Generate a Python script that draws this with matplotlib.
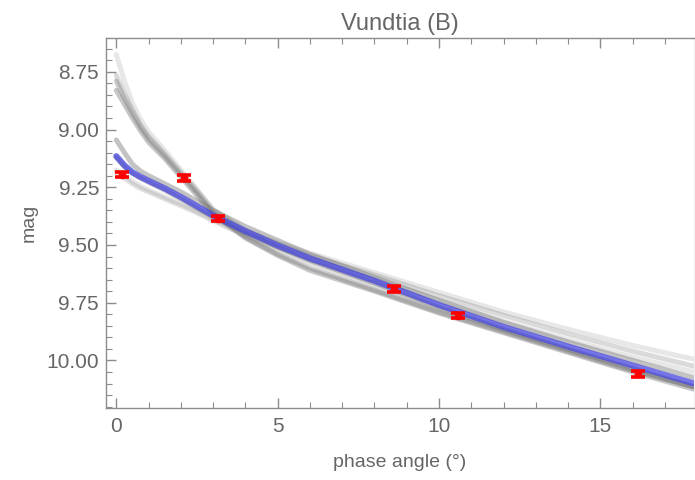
import matplotlib
matplotlib.use("Agg")
import matplotlib.pyplot as plt
from matplotlib.ticker import MultipleLocator, FormatStrFormatter

plt.rcParams['font.family'] = ['Liberation Sans', 'DejaVu Sans']

# Observations
obs_phase = [0.18, 2.09, 3.14, 8.59, 10.60, 16.17]
obs_mag = [9.195, 9.210, 9.386, 9.691, 9.806, 10.058]
obs_err = [0.012, 0.012, 0.012, 0.012, 0.012, 0.012]

# Phase grid on which the model curves are tabulated
phase_grid = [0, 0.25, 0.5, 0.75, 1, 1.5, 2, 2.5, 3, 4, 5, 6, 8, 10, 12, 14, 16, 17.9]

# Best-fit phase curve
fit_mag = [9.115, 9.155, 9.185, 9.205, 9.222, 9.255, 9.292, 9.332, 9.372, 9.44,
           9.502, 9.558, 9.655, 9.76, 9.855, 9.94, 10.022, 10.10]

# Sampled model curves
sample_1 = [8.675, 8.79, 8.885, 8.955, 9.01, 9.09, 9.175, 9.26, 9.345, 9.435,
            9.49, 9.535, 9.62, 9.705, 9.79, 9.865, 9.935, 9.995]
sample_2 = [8.765, 8.845, 8.915, 8.98, 9.03, 9.105, 9.185, 9.265, 9.35, 9.44,
            9.495, 9.545, 9.63, 9.72, 9.805, 9.885, 9.96, 10.025]
sample_3 = [8.79, 8.865, 8.93, 8.99, 9.04, 9.115, 9.195, 9.275, 9.36, 9.465,
            9.54, 9.60, 9.695, 9.79, 9.875, 9.96, 10.045, 10.115]
sample_4 = [8.83, 8.89, 8.95, 9.005, 9.055, 9.125, 9.205, 9.285, 9.365, 9.47,
            9.545, 9.61, 9.70, 9.795, 9.88, 9.965, 10.05, 10.125]
sample_5 = [9.045, 9.10, 9.15, 9.18, 9.20, 9.235, 9.27, 9.31, 9.35, 9.42,
            9.48, 9.54, 9.64, 9.74, 9.835, 9.92, 10.0, 10.075]
sample_6 = [9.185, 9.21, 9.235, 9.255, 9.27, 9.30, 9.33, 9.36, 9.395, 9.46,
            9.52, 9.575, 9.675, 9.775, 9.87, 9.955, 10.04, 10.115]
sample_7 = [9.175, 9.20, 9.225, 9.245, 9.262, 9.292, 9.322, 9.355, 9.39, 9.455,
            9.51, 9.56, 9.65, 9.74, 9.83, 9.91, 9.985, 10.05]
sample_8 = [9.12, 9.16, 9.19, 9.21, 9.228, 9.262, 9.30, 9.34, 9.38, 9.448,
            9.51, 9.567, 9.665, 9.77, 9.865, 9.952, 10.035, 10.115]

samples = [sample_1, sample_2, sample_3, sample_4, sample_5, sample_6, sample_7, sample_8]
sample_alpha = [0.18, 0.28, 0.38, 0.42, 0.45, 0.22, 0.18, 0.45]

x_ticks = [0, 5, 10, 15]
y_ticks = [8.75, 9.00, 9.25, 9.50, 9.75, 10.00]

fig = plt.figure(figsize=(6.95, 4.80), dpi=100)
ax = fig.add_axes([0.1525, 0.151, 0.8455, 0.770])

for mags, a in zip(samples, sample_alpha):
    ax.plot(phase_grid, mags, color='#7a7a7a', alpha=a, lw=3.6,
            solid_capstyle='round', solid_joinstyle='round')

ax.plot(phase_grid, fit_mag, color='#4040e0', alpha=0.72, lw=4.4,
        solid_capstyle='round', solid_joinstyle='round')

ax.errorbar(obs_phase, obs_mag, yerr=obs_err, fmt='o', color='red', ms=4.5,
            elinewidth=2.4, capsize=4.7, capthick=2.6, zorder=5)

ax.set_xlim(-0.32, 17.89)
ax.set_ylim(10.204, 8.603)

ax.set_xticks(x_ticks)
ax.set_yticks(y_ticks)
ax.xaxis.set_minor_locator(MultipleLocator(1))
ax.yaxis.set_minor_locator(MultipleLocator(0.05))
ax.yaxis.set_major_formatter(FormatStrFormatter('%.2f'))

for side in ['left', 'bottom', 'top']:
    ax.spines[side].set_color('#8c8c8c')
    ax.spines[side].set_linewidth(1.0)
ax.spines['right'].set_color('#f0f0f0')

ax.tick_params(which='both', direction='in', top=True, right=False,
               colors='#8c8c8c', labelcolor='#666666', labelsize=15)
ax.tick_params(which='major', length=7, width=1.0)
ax.tick_params(which='minor', length=4, width=0.8)
ax.tick_params(axis='x', which='major', pad=7)
ax.tick_params(axis='y', which='major', pad=5)

ax.set_xlabel('phase angle (°)', fontsize=14, color='#666666', labelpad=13)
ax.set_ylabel('mag', fontsize=14, color='#666666', labelpad=6)
ax.set_title('Vundtia (B)', fontsize=17, color='#666666', pad=6)

fig.savefig('out.png', dpi=100)
